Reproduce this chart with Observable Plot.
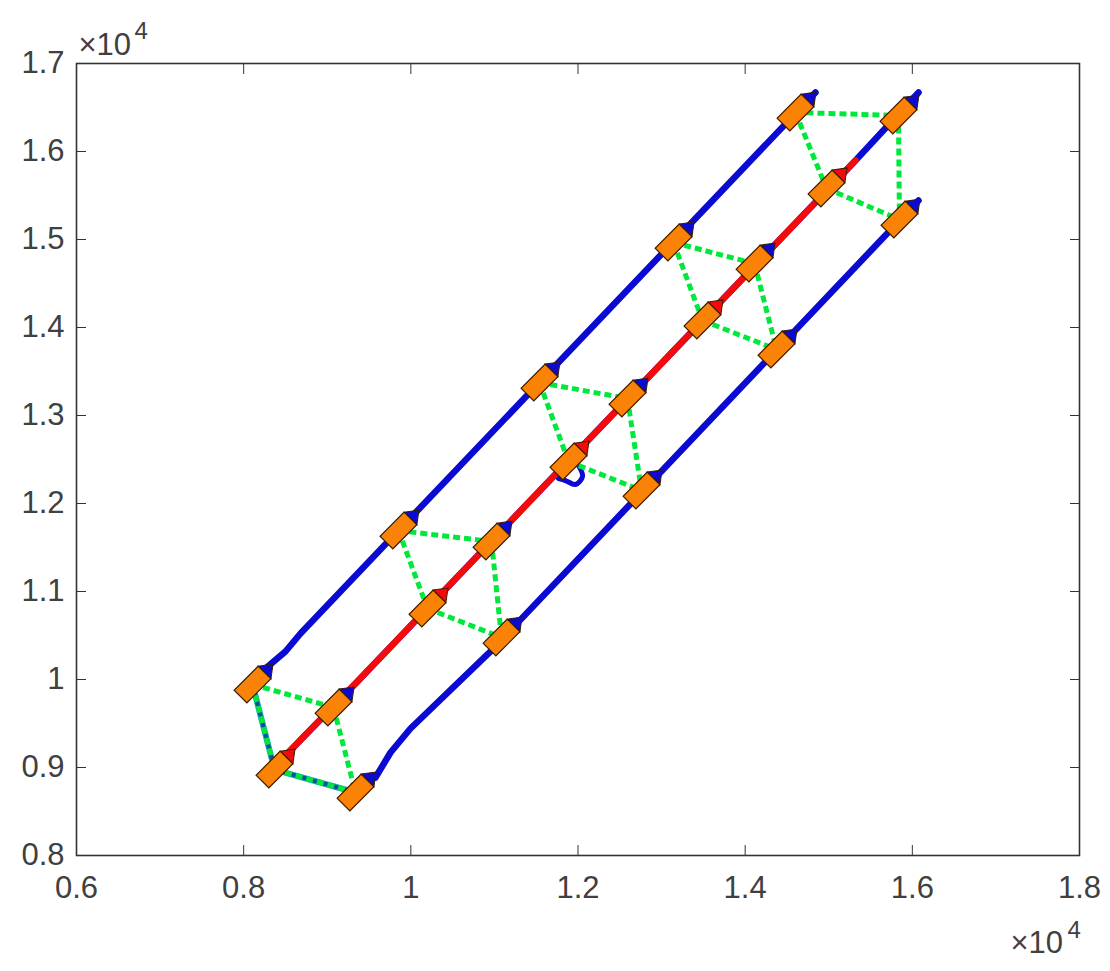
<!DOCTYPE html>
<html>
<head>
<meta charset="utf-8">
<script src="https://cdn.jsdelivr.net/npm/d3@7"></script>
<script src="https://cdn.jsdelivr.net/npm/@observablehq/plot@0.6"></script>
<style>
html,body{margin:0;padding:0;background:#fff}
svg{display:block}
</style>
</head>
<body>
<div id="chart"></div>
<script>
const xTicks = [6000, 8000, 10000, 12000, 14000, 16000, 18000];
const yTicks = [8000, 9000, 10000, 11000, 12000, 13000, 14000, 15000, 16000, 17000];

const topPathX = [8261, 8500, 8680, 14841];
const topPathY = [10125, 10318, 10523, 16671];
const midBluePathX = [8500, 9338, 15320, 16074];
const midBluePathY = [9136, 9955, 15898, 16671];
const midRedPathX = [8500, 9338, 15320];
const midRedPathY = [9136, 9955, 15898];
const bottomPathX = [9577, 9757, 9996, 10929, 16074];
const bottomPathY = [8886, 9170, 9443, 10296, 15443];
const curlX = [11767, 11850, 11970, 12054, 12006];
const curlY = [12284, 12261, 12216, 12307, 12432];

// formation order in every group: top, right-middle, left-middle, bottom
const agentX = [8106, 9075, 8369, 9338, 9852, 10965, 10199, 11085, 11539, 12592, 11886, 12760, 13143, 14112, 13489, 14375, 14602, 15834, 14973, 15846];
const agentY = [9943, 9682, 8977, 8716, 11693, 11568, 10807, 10477, 13375, 13193, 12477, 12148, 14966, 14727, 14080, 13750, 16443, 16409, 15580, 15227];
const agentRole = ["blue", "blue", "red", "blue", "blue", "blue", "red", "blue", "blue", "blue", "red", "blue", "blue", "blue", "red", "blue", "blue", "blue", "red", "blue"];

const linkFrom = [0, 0, 1, 2];
const linkTo = [1, 2, 3, 3];
const groupStarts = [0, 4, 8, 12, 16];
const tealFrom = [0, 2];
const tealTo = [2, 3];

const toRows = (xs, ys) => xs.map((x, i) => ({x, y: ys[i]}));
const agents = agentX.map((x, i) => ({x, y: agentY[i], role: agentRole[i]}));
const links = groupStarts.flatMap(g => linkFrom.map((f, i) => ({a: agents[g + f], b: agents[g + linkTo[i]]})));
const tealLinks = tealFrom.map((f, i) => ({a: agents[f], b: agents[tealTo[i]]}));

const bodySymbol = {draw(c) { c.moveTo(-9, -17); c.lineTo(9, -17); c.lineTo(9, 17); c.lineTo(-9, 17); c.closePath(); }};
const tipSymbol = {draw(c) { c.moveTo(-9, -17); c.lineTo(0, -29); c.lineTo(9, -17); c.closePath(); }};

const link = (rows, o) => Plot.link(rows, {x1: d => d.a.x, y1: d => d.a.y, x2: d => d.b.x, y2: d => d.b.y, ...o});
const path = (xs, ys, stroke, w, curve = "linear") => Plot.line(toRows(xs, ys), {x: "x", y: "y", stroke, strokeWidth: w, curve, strokeLinecap: "round"});
const ink = "#404040";
const axisFont = {fontSize: 31, fill: ink};
const exp = (x, y, dx, dy, text, fontSize) => Plot.text([{x, y}], {x: "x", y: "y", text: () => text, dx, dy, fontSize, fill: ink, textAnchor: "start", lineAnchor: "bottom"});
const fmt = d => String(d / 10000);

const plot = Plot.plot({
  width: 1110,
  height: 971,
  marginLeft: 76,
  marginRight: 31,
  marginTop: 63,
  marginBottom: 116,
  style: {fontFamily: "'Liberation Sans', Arial, sans-serif", background: "#fff", overflow: "visible"},
  x: {domain: [6000, 18000], label: null},
  y: {domain: [8000, 17000], label: null},
  marks: [
    Plot.frame({stroke: "#333", strokeWidth: 1.6}),
    Plot.axisX({anchor: "bottom", ticks: xTicks, tickSize: -10, tickPadding: 30, tickFormat: fmt, label: null, stroke: "#333", ...axisFont}),
    Plot.axisX({anchor: "top", ticks: xTicks, tickSize: -10, tickFormat: () => "", label: null, stroke: "#333"}),
    Plot.axisY({anchor: "left", ticks: yTicks, tickSize: -10, tickPadding: 22, tickFormat: fmt, label: null, stroke: "#333", ...axisFont}),
    Plot.axisY({anchor: "right", ticks: yTicks, tickSize: -10, tickFormat: () => "", label: null, stroke: "#333"}),
    exp(6000, 17000, 2, -9, "×10", 31),
    exp(6000, 17000, 58, -25, "4", 24),
    exp(18000, 8000, -69, 97, "×10", 31),
    exp(18000, 8000, -12, 82, "4", 24),
    path(topPathX, topPathY, "#0a0ad2", 6.5),
    path(midBluePathX, midBluePathY, "#0a0ad2", 6.5),
    path(bottomPathX, bottomPathY, "#0a0ad2", 6.5),
    path(curlX, curlY, "#0a0ad2", 5, "catmull-rom"),
    path(midRedPathX, midRedPathY, "#f40a0a", 6.5),
    link(tealLinks, {stroke: "#14a7b5", strokeWidth: 6}),
    link(tealLinks, {stroke: "#0b4f9e", strokeWidth: 4}),
    link(links, {stroke: "#00e83c", strokeWidth: 5, strokeDasharray: "7 4"}),
    Plot.dot(agents, {x: "x", y: "y", symbol: tipSymbol, rotate: 45, fill: d => d.role === "red" ? "#f40a0a" : "#0a0ad2", stroke: "#3a1c00", strokeWidth: 1}),
    Plot.dot(agents, {x: "x", y: "y", symbol: bodySymbol, rotate: 45, fill: "#f98207", stroke: "#3a1c00", strokeWidth: 1.2})
  ]
});
document.getElementById("chart").appendChild(plot);
</script>
</body>
</html>
